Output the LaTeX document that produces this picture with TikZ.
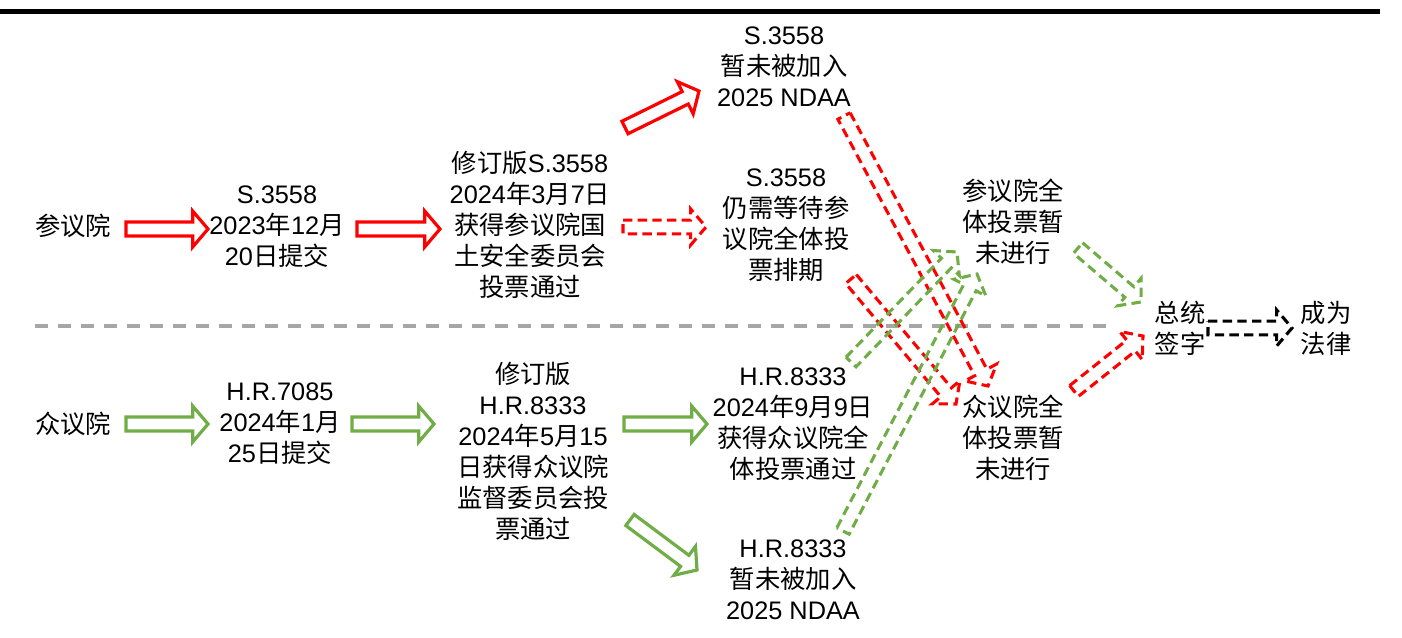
\documentclass[tikz,border=0pt]{standalone}
\usepackage{fontspec}
\setmainfont{Liberation Sans}
\newfontfamily\cjk{Noto Sans CJK SC}
\usetikzlibrary{calc}

\definecolor{ofgreen}{HTML}{70AD47}
\definecolor{sepgray}{HTML}{A6A6A6}

\newcommand{\zh}[1]{{\cjk #1}}

% block arrow: outline from tail (#2) to tip (#3)
\newcommand{\shaftw}{5.2pt}
\newcommand{\headw}{13.5pt}
\newcommand{\headlen}{11.5pt}
\newcommand{\blockarrow}[3][]{%
  \coordinate (ba-a) at (#2);
  \coordinate (ba-b) at (#3);
  \coordinate (ba-n) at ($(ba-b)!\headlen!(ba-a)$);
  \draw[#1] ($(ba-a)!\shaftw!90:(ba-b)$) -- ($(ba-n)!\shaftw!-90:(ba-a)$)
    -- ($(ba-n)!\headw!-90:(ba-a)$) -- (ba-b)
    -- ($(ba-n)!\headw!90:(ba-a)$) -- ($(ba-n)!\shaftw!90:(ba-a)$)
    -- ($(ba-a)!\shaftw!-90:(ba-b)$) -- cycle;}

\tikzset{
  txt/.style={align=center, inner sep=0pt, font=\fontsize{19pt}{23.25pt}\selectfont},
  redline/.style={draw=red, line width=2.4pt},
  greenline/.style={draw=ofgreen, line width=2.4pt},
  reddash/.style={draw=red, line width=2.3pt, dash pattern=on 7pt off 4pt},
  greendash/.style={draw=ofgreen, line width=2.3pt, dash pattern=on 7pt off 4pt},
  blackdash/.style={draw=black, line width=2.3pt, dash pattern=on 7pt off 4pt},
}

\begin{document}
\begin{tikzpicture}[x=0.75pt, y=-0.75pt]
  \useasboundingbox (0,0) rectangle (1402,637);

  % -- rules --
  \draw[line width=3.75pt] (0,11.5) -- (1380,11.5);
  \draw[sepgray, line width=2.6pt, dash pattern=on 9.75pt off 7.5pt] (35,326) -- (1110,326);

  % -- senate row --
  \node[txt] (sen) at (73,226) {\zh{参议院}};
  \node[txt] (s1) at (277,227) {S.3558\\2023\zh{年}12\zh{月}\\20\zh{日提交}};
  \node[txt] (sr) at (530,225) {\zh{修订版}S.3558\\2024\zh{年}3\zh{月}7\zh{日}\\\zh{获得参议院国}\\\zh{土安全委员会}\\\zh{投票通过}};
  \node[txt] (sn) at (784,67) {S.3558\\\zh{暂未被加入}\\2025 NDAA};
  \node[txt] (sw) at (786,225) {S.3558\\\zh{仍需等待参}\\\zh{议院全体投}\\\zh{票排期}};
  \node[txt] (sfl) at (1013,222) {\zh{参议院全}\\\zh{体投票暂}\\\zh{未进行}};

  % -- house row --
  \node[txt] (hen) at (73,424) {\zh{众议院}};
  \node[txt] (h1) at (280,424) {H.R.7085\\2024\zh{年}1\zh{月}\\25\zh{日提交}};
  \node[txt] (hr) at (533,451) {\zh{修订版}\\H.R.8333\\2024\zh{年}5\zh{月}15\\\zh{日获得众议院}\\\zh{监督委员会投}\\\zh{票通过}};
  \node[txt] (hv) at (793,424) {H.R.8333\\2024\zh{年}9\zh{月}9\zh{日}\\\zh{获得众议院全}\\\zh{体投票通过}};
  \node[txt] (hn) at (793,580) {H.R.8333\\\zh{暂未被加入}\\2025 NDAA};
  \node[txt] (hfl) at (1013,438) {\zh{众议院全}\\\zh{体投票暂}\\\zh{未进行}};

  % -- end --
  \node[txt] (pres) at (1180,328) {\zh{总统}\\\zh{签字}};
  \node[txt] (law) at (1326,328) {\zh{成为}\\\zh{法律}};

  % -- senate arrows --
  \blockarrow[redline]{$(sen)+(53,3)$}{$(s1)+(-69,2)$}
  \blockarrow[redline]{$(s1)+(80,2)$}{$(sr)+(-90,4)$}
  \blockarrow[reddash]{$(sr)+(93,2)$}{$(sw)+(-80,2)$}
  \blockarrow[redline]{$(sr)+(95,-97.5)$}{$(sn)+(-85,24)$}
  \blockarrow[reddash]{$(sn)+(60,49)$}{$(hfl)+(-25,-52)$}
  \blockarrow[reddash]{$(sw)+(65,54)$}{$(hfl)+(-57,-34)$}
  \blockarrow[reddash]{$(hfl)+(61,-47)$}{$(pres)+(-37,8)$}

  % -- house arrows --
  \blockarrow[greenline]{$(hen)+(53,0)$}{$(h1)+(-72,0)$}
  \blockarrow[greenline]{$(h1)+(72,0)$}{$(hr)+(-99,-27)$}
  \blockarrow[greenline]{$(hr)+(91,-27)$}{$(hv)+(-86,0)$}
  \blockarrow[greenline]{$(hr)+(97,69)$}{$(hn)+(-96,-10)$}
  \blockarrow[greendash]{$(hv)+(58,-62)$}{$(sfl)+(-56,30)$}
  \blockarrow[greendash]{$(hn)+(50,-49)$}{$(sfl)+(-36,52)$}
  \blockarrow[greendash]{$(sfl)+(65,26)$}{$(pres)+(-39,-26)$}

  % -- signature --
  \blockarrow[blackdash]{$(pres)+(28,0)$}{$(law)+(-34,0)$}

\end{tikzpicture}
\end{document}
